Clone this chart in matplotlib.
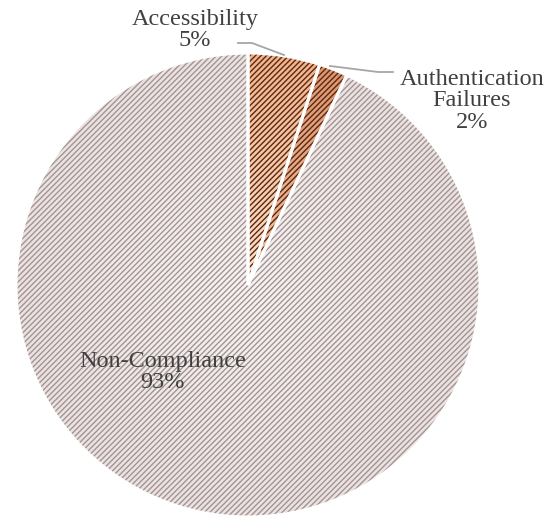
import numpy as np
import matplotlib.pyplot as plt
from matplotlib.colors import LinearSegmentedColormap

plt.rcParams['font.family'] = ['Liberation Serif', 'DejaVu Serif']
plt.rcParams['hatch.linewidth'] = 1.0

# Share of issues by category
categories = ["Accessibility", "Authentication\nFailures", "Non-Compliance"]
shares = [5, 2, 93]

# radial gradient (center colour, rim colour) and hatch colour per slice
grad_colors = [("#fde2cc", "#f2b48c"), ("#f3c3a2", "#de9670"), ("#f7f3f2", "#ebe3e1")]
hatch_colors = ["#5b2812", "#5b2812", "#a39494"]

W, H = 549, 519
cx, cy, R = 248, 285, 232


def px(x, y):
    # pixel position -> pie data units (pie centred at 0, radius 1)
    return (x - cx) / R, (cy - y) / R


fig = plt.figure(figsize=(W / 100, H / 100), dpi=100)
ax = fig.add_axes([0, 0, 1, 1])

wedges, _ = ax.pie(shares, startangle=90, counterclock=False, radius=1,
                   center=(0, 0), frame=True)

# radial gradient fill clipped to each slice
n = 400
g = np.linspace(-1, 1, n)
xx, yy = np.meshgrid(g, g)
rr = np.clip(np.sqrt(xx ** 2 + yy ** 2), 0, 1)
for w, (c0, c1), hc in zip(wedges, grad_colors, hatch_colors):
    cmap = LinearSegmentedColormap.from_list("g", [c0, c1])
    im = ax.imshow(rr, cmap=cmap, vmin=0, vmax=1, extent=(-1, 1, -1, 1),
                   origin="lower", zorder=1)
    im.set_clip_path(w)
    w.set_facecolor("none")
    w.set_edgecolor(hc)
    w.set_hatch("//////")
    w.set_linewidth(0)
    w.set_zorder(2)

# white separators between slices
ax.pie(shares, startangle=90, counterclock=False, radius=1, center=(0, 0),
       frame=True,
       wedgeprops=dict(facecolor="none", edgecolor="white", linewidth=2.2,
                       zorder=3))
ax.set_xlim(-cx / R, (W - cx) / R)
ax.set_ylim(-(H - cy) / R, cy / R)
ax.set_aspect("equal")
ax.axis("off")

txt = dict(color="#404040", fontsize=17.5, ha="center", va="center",
           linespacing=1.02)
ax.text(*px(195, 30), f"{categories[0]}\n{shares[0]}%", **txt)
ax.text(*px(472, 101), f"{categories[1]}\n{shares[1]}%", **txt)
ax.text(*px(163, 372), f"{categories[2]}\n{shares[2]}%", **txt)

# leader lines
lead = dict(color="#a6a6a6", linewidth=1.3, zorder=4)
p = [px(238, 43), px(252, 43), px(284, 55)]
ax.plot([q[0] for q in p], [q[1] for q in p], **lead)
p = [px(330, 66), px(378, 72), px(393, 72)]
ax.plot([q[0] for q in p], [q[1] for q in p], **lead)

fig.savefig("out.png", dpi=100)
